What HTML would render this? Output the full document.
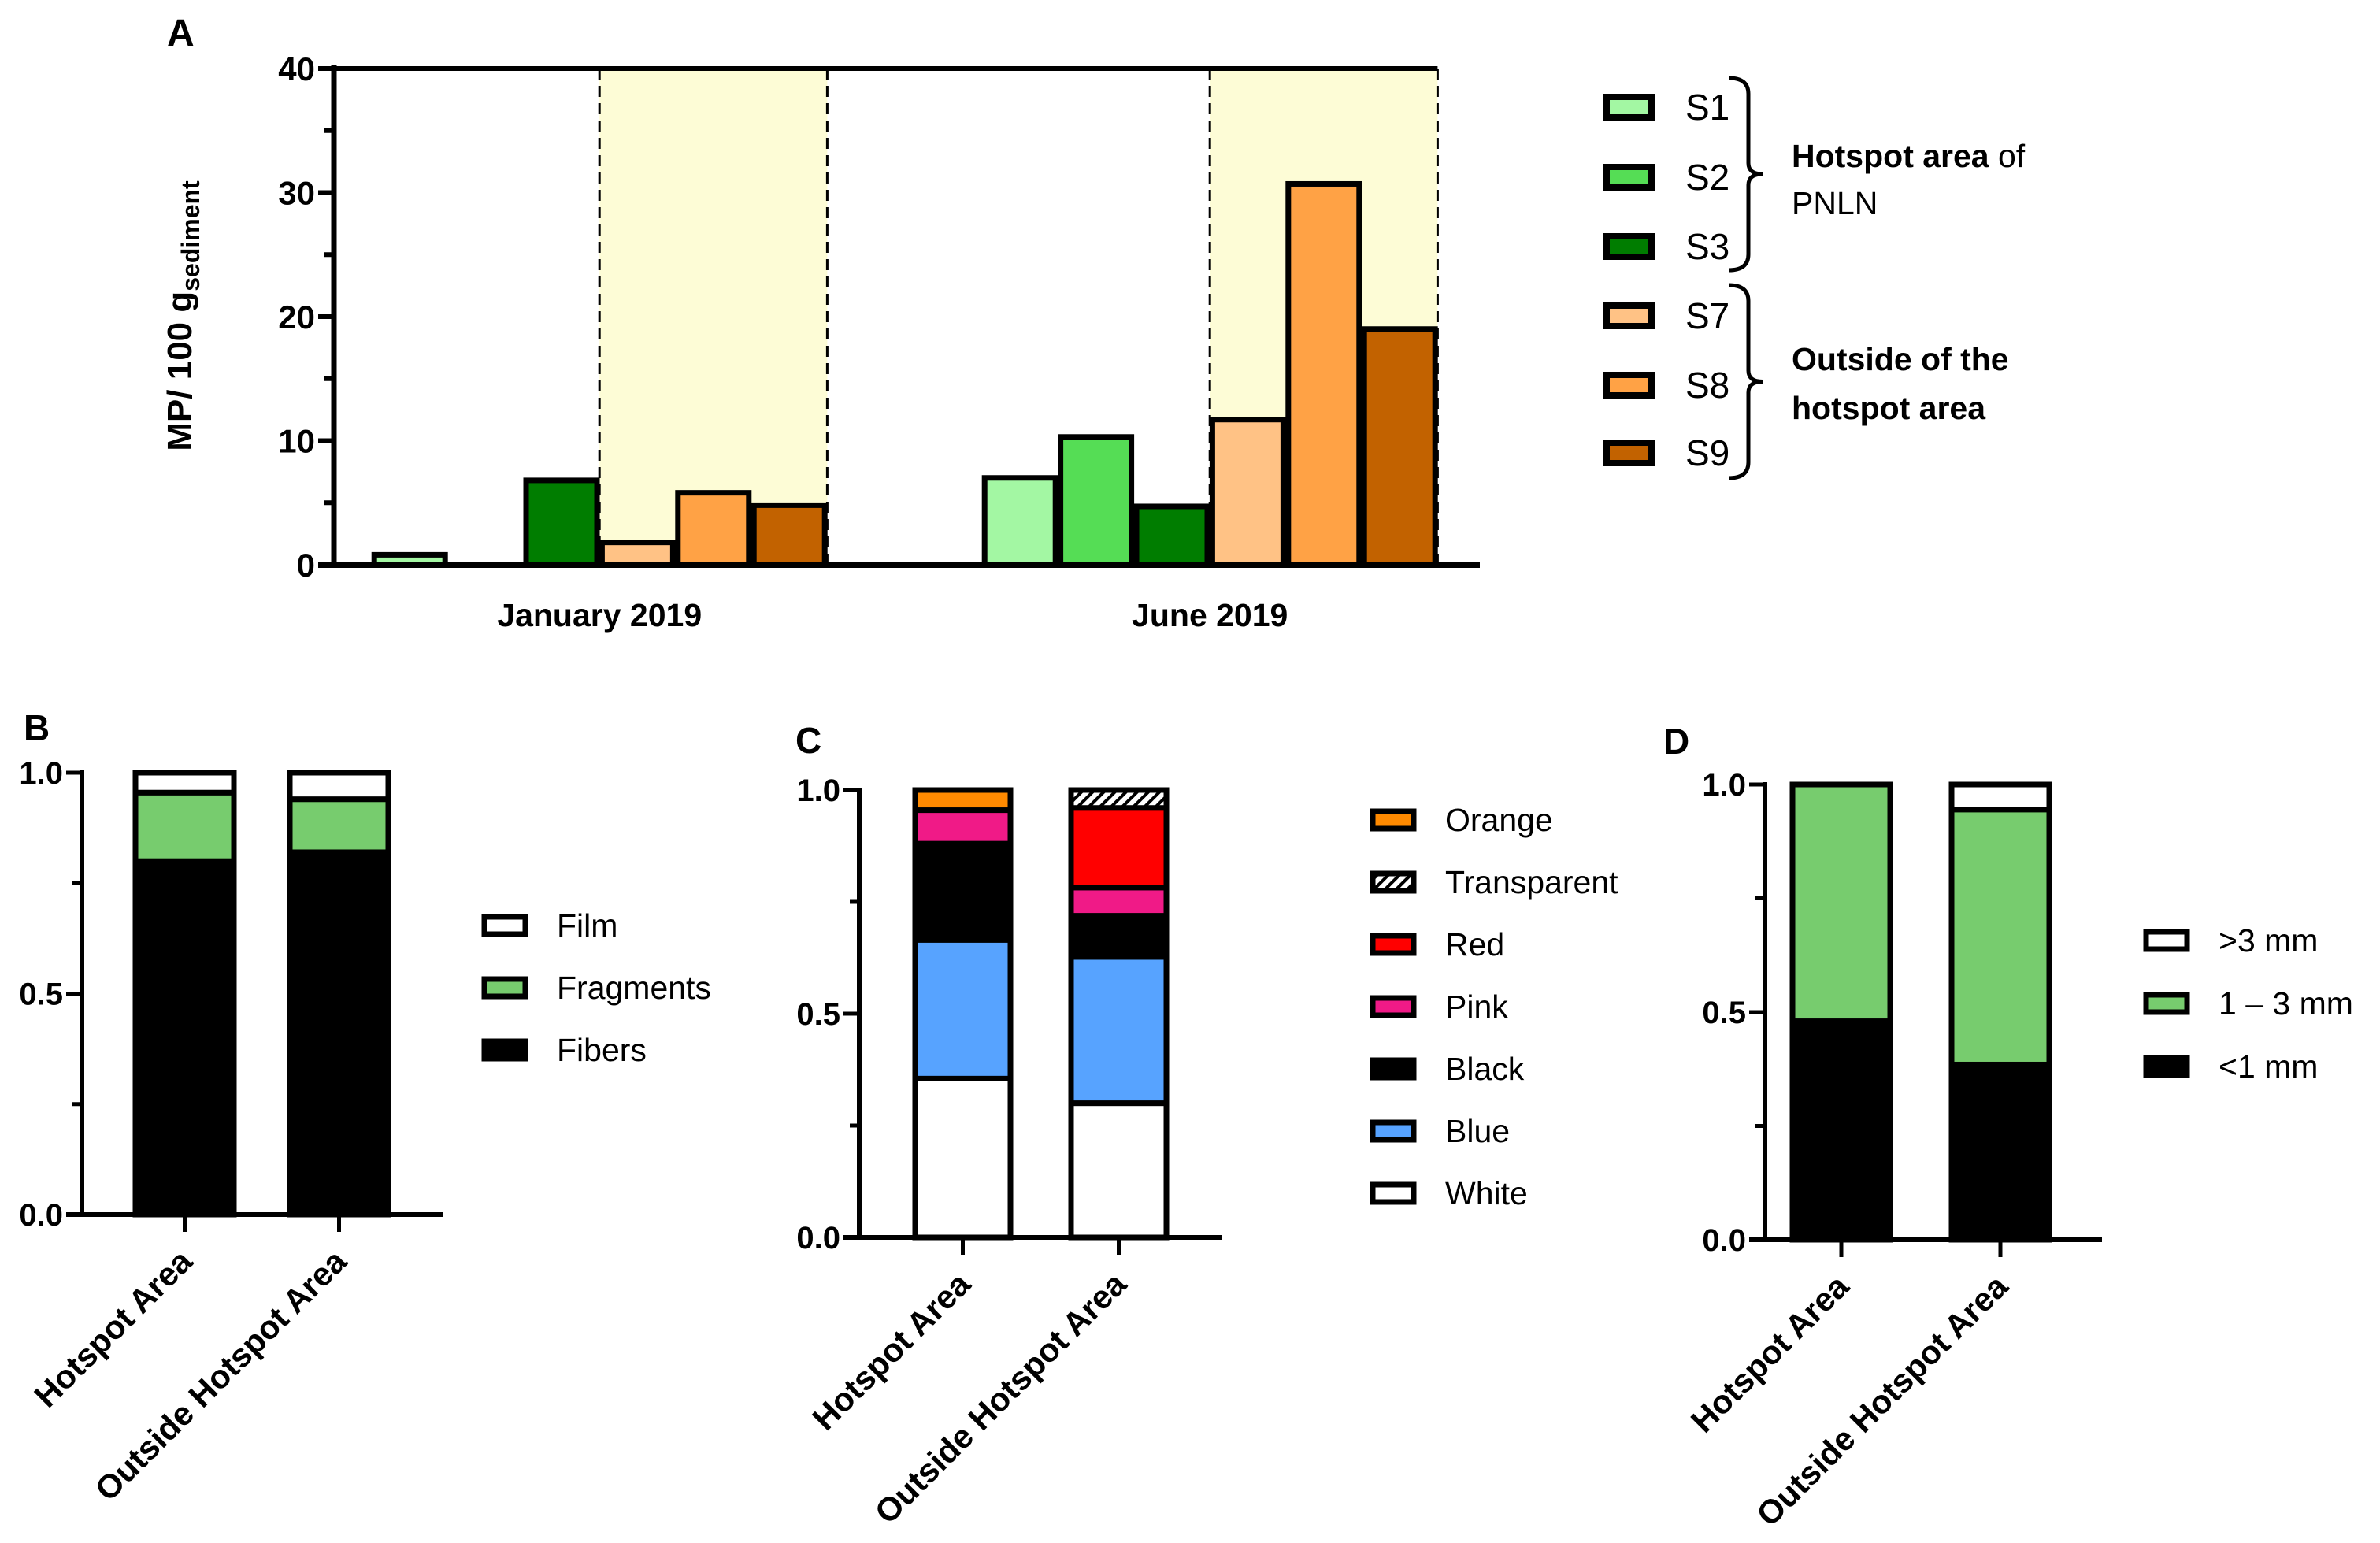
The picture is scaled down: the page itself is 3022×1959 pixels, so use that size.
<!DOCTYPE html>
<html><head><meta charset="utf-8"><style>
html,body{margin:0;padding:0;background:#fff;}
svg{display:block;font-family:"Liberation Sans",Arial,sans-serif;}
</style></head><body>
<svg id="fig" width="3022" height="1959" viewBox="0 0 3022 1959" xmlns="http://www.w3.org/2000/svg">
<defs>
<pattern id="hatch" patternUnits="userSpaceOnUse" width="10" height="10" patternTransform="rotate(45)">
<rect width="10" height="10" fill="#fff"/><rect width="4" height="10" fill="#000"/>
</pattern>
</defs>
<g id="A"></g>
<g id="B"></g>
<g id="C"></g>
<g id="D"></g>
</svg>
<script>
// ---- Panel A data ----
const aGroups = ["January 2019", "June 2019"];
const aSeries = ["S1","S2","S3","S7","S8","S9"];
const aJan = [0.8, 0, 6.8, 1.8, 5.8, 4.8];
const aJun = [7.0, 10.3, 4.7, 11.7, 30.7, 19.0];
const aTicks = [0, 10, 20, 30, 40];
const aColors = ["#a3f7a3","#55dd55","#007d00","#ffc285","#ffa245","#c26200"];

// ---- Panel B data ----
const bCats = ["Hotspot Area","Outside Hotspot Area"];
const bLabels = ["Fibers","Fragments","Film"];
const bFibers = [0.80, 0.82];
const bFragments = [0.155, 0.12];
const bFilm = [0.045, 0.06];
const bColors = ["#000","#77cc6e","#fff"];

// ---- Panel C data ----
const cLabels = ["White","Blue","Black","Pink","Red","Transparent","Orange"];
const cHot = [0.355, 0.31, 0.215, 0.075, 0, 0, 0.045];
const cOut = [0.30, 0.327, 0.092, 0.063, 0.178, 0.04, 0];
const cColors = ["#fff","#57a3ff","#000","#f01a87","#ff0000","url(#hatch)","#ff8a00"];

// ---- Panel D data ----
const dLabels = ["<1 mm","1 \u2013 3 mm",">3 mm"];
const dSmall = [0.48, 0.385];
const dMid = [0.52, 0.56];
const dLarge = [0.0, 0.055];
const dColors = ["#000","#77cc6e","#fff"];
const fracTicks = [0.0, 0.5, 1.0];

const NS = "http://www.w3.org/2000/svg";
function mk(parent, tag, attrs, text){
  const e = document.createElementNS(NS, tag);
  for (const k in attrs) e.setAttribute(k, attrs[k]);
  if (text !== undefined) e.textContent = text;
  parent.appendChild(e);
  return e;
}

// ================= Panel A =================
(function(){
  const g = document.getElementById('A');
  const x0 = 424, yB = 717, yT = 87, xEnd = 1879;
  const y = v => yB - (v/40)*(yB-yT);
  const slot = 96.4, bw = 90;
  const groupLeft = [472, 1247];
  const cx = (gi, si) => groupLeft[gi] + slot*si + slot/2;
  const vals = [aJan, aJun];
  for (let gi=0; gi<2; gi++){
    const l = cx(gi,3)-slot/2, r = cx(gi,5)+slot/2;
    const rr = mk(g,'rect',{x:l,y:yT,width:r-l,height:yB-yT,fill:'#fdfcd6'});
    
    
    for (const xx of [l,r]){
      const ln = mk(g,'line',{x1:xx,y1:yT,x2:xx,y2:yB,stroke:'#000','stroke-width':3,'stroke-dasharray':'14,8'});
      
      
    }
  }
  for (let gi=0; gi<2; gi++){
    for (let si=0; si<aSeries.length; si++){
      const v = vals[gi][si];
      if (v <= 0) continue;
      const b = mk(g,'rect',{x:cx(gi,si)-bw/2,y:y(v),width:bw,height:yB-y(v),fill:aColors[si],stroke:'#000','stroke-width':7});
      
      
    }
  }
  const ax = mk(g,'line',{x1:x0,y1:yT-4,x2:x0,y2:yB+4,stroke:'#000','stroke-width':7});
  
  
  const top = mk(g,'line',{x1:x0,y1:yT,x2:cx(1,5)+slot/2,y2:yT,stroke:'#000','stroke-width':6});
  
  
  const bx = mk(g,'line',{x1:x0-20,y1:yB,x2:xEnd,y2:yB,stroke:'#000','stroke-width':8});
  
  
  for (let t=0; t<=40; t+=5){
    const major = t%10===0;
    const tk = mk(g,'line',{x1:x0-(major?20:12),y1:y(t),x2:x0,y2:y(t),stroke:'#000','stroke-width':6});
    
    
  }
  aTicks.forEach(t=>{
    const tl = mk(g,'text',{x:x0-24,y:y(t)+15,'text-anchor':'end','font-size':42,'font-weight':'bold'},String(t));
    
    
  });
  aGroups.forEach((name,gi)=>{
    const c = (cx(gi,0)+cx(gi,5))/2;
    const tl = mk(g,'text',{x:c,y:795,'text-anchor':'middle','font-size':41,'font-weight':'bold'},name);
    
    
  });
  const yt = mk(g,'text',{x:0,y:0,transform:'translate(243,401) rotate(-90)','text-anchor':'middle','font-size':44,'font-weight':'bold'});
  
  
  yt.appendChild(document.createTextNode('MP/ 100 g'));
  mk(yt,'tspan',{'font-size':32,dy:10},'sediment');
  const lab = mk(g,'text',{x:212,y:58,'font-size':48,'font-weight':'bold'},'A');
  
  
  const ly = [136,225,313,401,489,575];
  aSeries.forEach((s,i)=>{
    const r = mk(g,'rect',{x:2040,y:ly[i]-13,width:57,height:26,fill:aColors[i],stroke:'#000','stroke-width':8});
    
    
    const t = mk(g,'text',{x:2140,y:ly[i]+16,'font-size':46},s);
    
    
  });
  function brace(top,bot){
    const mid=(top+bot)/2, x=2220;
    const p = mk(g,'path',{d:`M2195,${top} Q${x},${top} ${x},${top+20} L${x},${mid-14} Q${x},${mid} 2238,${mid} Q${x},${mid} ${x},${mid+14} L${x},${bot-20} Q${x},${bot} 2195,${bot}`,fill:'none',stroke:'#000','stroke-width':5});
    
    
  }
  brace(99,343); brace(362,607);
  const t1 = mk(g,'text',{x:2275,y:212,'font-size':41});
  
  
  mk(t1,'tspan',{'font-weight':'bold'},'Hotspot area');
  mk(t1,'tspan',{},' of');
  const t2 = mk(g,'text',{x:2275,y:272,'font-size':41},'PNLN');
  
  
  const t3 = mk(g,'text',{x:2275,y:470,'font-size':41,'font-weight':'bold'},'Outside of the');
  
  
  const t4 = mk(g,'text',{x:2275,y:532,'font-size':41,'font-weight':'bold'},'hotspot area');
  
  
})();

// ============== Stacked panels B, C, D ==============
function stacked(id, cfg){
  const g = document.getElementById(id);
  const {x0,yTop,yBot,xEnd,barX,bw,stacks,colors,labels,legend,letter,letterPos} = cfg;
  const y = v => yBot - v*(yBot-yTop);
  stacks.forEach((vals,bi)=>{
    let acc = 0;
    vals.forEach((v,si)=>{
      if (v<=0) return;
      const r = mk(g,'rect',{x:barX[bi],y:y(acc+v),width:bw,height:y(acc)-y(acc+v),fill:colors[si],stroke:'#000','stroke-width':7});
      
      
      acc += v;
    });
  });
  const ax = mk(g,'line',{x1:x0,y1:yTop-3,x2:x0,y2:yBot+3,stroke:'#000','stroke-width':6});
  
  
  const bx = mk(g,'line',{x1:x0-20,y1:yBot,x2:xEnd,y2:yBot,stroke:'#000','stroke-width':6});
  
  
  for (let t=0; t<=1.001; t+=0.25){
    const major = Math.abs((t*2)-Math.round(t*2))<1e-6;
    const tk = mk(g,'line',{x1:x0-(major?20:12),y1:y(t),x2:x0,y2:y(t),stroke:'#000','stroke-width':5});
    
    
  }
  fracTicks.forEach(t=>{
    const tl = mk(g,'text',{x:x0-24,y:y(t)+14,'text-anchor':'end','font-size':40,'font-weight':'bold'},t.toFixed(1));
    
    
  });
  bCats.forEach((c,bi)=>{
    const cxp = barX[bi]+bw/2;
    const tk = mk(g,'line',{x1:cxp,y1:yBot,x2:cxp,y2:yBot+22,stroke:'#000','stroke-width':5});
    
    
    const tl = mk(g,'text',{x:0,y:0,transform:`translate(${cxp+12},${yBot+62}) rotate(-45)`,'text-anchor':'end','font-size':42,'font-weight':'bold'},c);
    
    
  });
  const order = labels.map((l,i)=>i).reverse();
  order.forEach((si,k)=>{
    const ly = legend.y0 + k*legend.dy;
    const r = mk(g,'rect',{x:legend.x,y:ly-11,width:52,height:22,fill:colors[si],stroke:'#000','stroke-width':7});
    
    
    const t = mk(g,'text',{x:legend.x+92,y:ly+14,'font-size':41},labels[si]);
    
    
  });
  const lt = mk(g,'text',{x:letterPos[0],y:letterPos[1],'font-size':46,'font-weight':'bold'},letter);
  
  
}

stacked('B',{x0:104,yTop:981,yBot:1542,xEnd:563,barX:[172,368],bw:125,
  stacks:[[bFibers[0],bFragments[0],bFilm[0]],[bFibers[1],bFragments[1],bFilm[1]]],
  colors:bColors,labels:bLabels,legend:{x:615,y0:1175,dy:79},letter:'B',letterPos:[30,940]});

stacked('C',{x0:1091,yTop:1003,yBot:1571,xEnd:1552,barX:[1162,1360],bw:121,
  stacks:[cHot,cOut],colors:cColors,labels:cLabels,legend:{x:1743,y0:1041,dy:79},letter:'C',letterPos:[1010,956]});

stacked('D',{x0:2241,yTop:996,yBot:1574,xEnd:2669,barX:[2276,2478],bw:124,
  stacks:[[dSmall[0],dMid[0],dLarge[0]],[dSmall[1],dMid[1],dLarge[1]]],
  colors:dColors,labels:dLabels,legend:{x:2725,y0:1194,dy:80},letter:'D',letterPos:[2112,957]});
</script>
</body></html>
